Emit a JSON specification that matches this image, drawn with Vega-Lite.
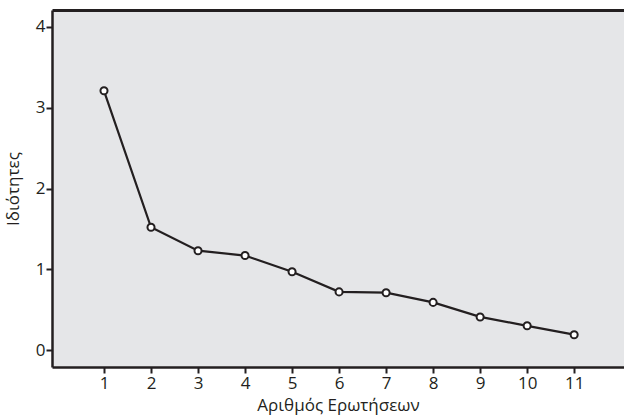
{
  "$schema": "https://vega.github.io/schema/vega-lite/v6.json",
  "width": 572,
  "height": 357,
  "autosize": {"type": "none"},
  "padding": {"left": 52, "top": 10, "right": 0, "bottom": 49},
  "background": "white",
  "config": {
    "view": {"fill": "#e5e6e8", "stroke": null},
    "font": "Open Sans"
  },
  "data": {
    "values": [
      {"q": 1, "v": 3.21},
      {"q": 2, "v": 1.52},
      {"q": 3, "v": 1.23},
      {"q": 4, "v": 1.17},
      {"q": 5, "v": 0.97},
      {"q": 6, "v": 0.72},
      {"q": 7, "v": 0.71},
      {"q": 8, "v": 0.59},
      {"q": 9, "v": 0.41},
      {"q": 10, "v": 0.30},
      {"q": 11, "v": 0.19}
    ]
  },
  "resolve": {"axis": {"x": "independent"}},
  "layer": [
    {
      "mark": {"type": "line", "color": "#231f20", "strokeWidth": 2.2},
      "encoding": {
        "x": {
          "field": "q", "type": "quantitative",
          "scale": {"domain": [-0.106, 12.06], "nice": false, "zero": false},
          "axis": {
            "values": [1,2,3,4,5,6,7,8,9,10,11], "format": "d",
            "title": "Αριθμός Ερωτήσεων", "orient": "bottom",
            "titleY": 43, "titleBaseline": "alphabetic",
            "grid": false, "domainColor": "#231f20", "domainWidth": 2.5,
            "tickColor": "#231f20", "tickWidth": 2, "tickSize": 6,
            "labelFont": "Open Sans", "labelFontSize": 17, "labelColor": "#231f20", "labelPadding": 2,
            "titleFont": "Open Sans", "titleFontSize": 17, "titleFontWeight": "normal", "titleColor": "#231f20"
          }
        },
        "y": {
          "field": "v", "type": "quantitative",
          "scale": {"domain": [-0.21, 4.21], "nice": false, "zero": false},
          "axis": {
            "values": [0,1,2,3,4], "format": "d",
            "title": "Ιδιότητες", "titleX": -30,
            "grid": false, "domainColor": "#231f20", "domainWidth": 2.5,
            "tickColor": "#231f20", "tickWidth": 2, "tickSize": 6,
            "labelFont": "Open Sans", "labelFontSize": 17, "labelColor": "#231f20", "labelPadding": 1,
            "titleFont": "Open Sans", "titleFontSize": 17, "titleFontWeight": "normal", "titleColor": "#231f20"
          }
        }
      }
    },
    {
      "mark": {"type": "point", "shape": "circle", "filled": true, "fill": "white", "stroke": "#231f20", "strokeWidth": 2, "size": 50, "opacity": 1},
      "encoding": {
        "x": {"field": "q", "type": "quantitative", "axis": {"orient": "top", "labels": false, "ticks": false, "title": null, "domain": true, "grid": false, "domainColor": "#231f20", "domainWidth": 3}},
        "y": {"field": "v", "type": "quantitative"}
      }
    }
  ]
}
